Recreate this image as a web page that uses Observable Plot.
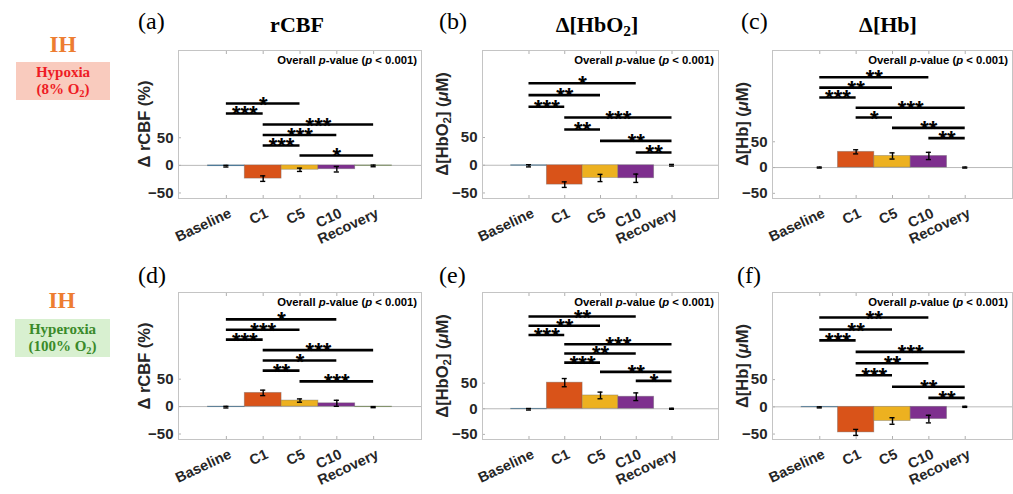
<!DOCTYPE html>
<html><head><meta charset="utf-8">
<script src="https://cdn.jsdelivr.net/npm/d3@7"></script>
<script src="https://cdn.jsdelivr.net/npm/@observablehq/plot@0.6"></script>
<style>
html,body{margin:0;padding:0;background:#fff;overflow:hidden;}
#root{position:relative;width:1013px;height:494px;overflow:hidden;font-family:"Liberation Sans",Arial,sans-serif;color:#262626;}
.abs{position:absolute;white-space:nowrap;line-height:1;}
.serif{font-family:"Liberation Serif","Times New Roman",serif;}
.plotwrap{position:absolute;}
.plotwrap svg{overflow:visible;max-width:none;}
sub{font-size:0.7em;vertical-align:-0.25em;line-height:0;}
</style></head><body><div id="root"></div><script>
// ---- shared categories / ticks ----
const categories = ["Baseline", "C1", "C5", "C10", "Recovery"];
const barColors = ["#0072BD", "#D95319", "#EDB120", "#7E2F8E", "#77AC30"];
const yTicks = [-50, 0, 50];

// ---- (a) rCBF, hypoxia ----
const aMean = [-1.5, -24, -8, -7, -1];
const aErr = [1.5, 5, 3, 5, 1.5];
const aSigFrom = ["Baseline", "Baseline", "C1", "C1", "C1", "C5"];
const aSigTo = ["C5", "C1", "Recovery", "C10", "C5", "Recovery"];
const aSigY = [112, 94, 74, 55, 36, 18];
const aSigStars = ["*", "***", "***", "***", "***", "*"];

// ---- (b) HbO2, hypoxia ----
const bMean = [-1, -35, -23, -23.5, 0];
const bErr = [2, 5, 6.5, 7.5, 1.5];
const bSigFrom = ["Baseline", "Baseline", "Baseline", "C1", "C1", "C5", "C10"];
const bSigTo = ["C10", "C5", "C1", "Recovery", "C5", "Recovery", "Recovery"];
const bSigY = [148, 126.5, 105.5, 86, 64.5, 44, 23];
const bSigStars = ["*", "**", "***", "***", "**", "**", "**"];

// ---- (c) Hb, hypoxia ----
const cMean = [0, 30.5, 22.5, 22.5, 0];
const cErr = [1, 4, 6, 7, 1];
const cSigFrom = ["Baseline", "Baseline", "Baseline", "C1", "C1", "C5", "C10"];
const cSigTo = ["C10", "C5", "C1", "Recovery", "C5", "Recovery", "Recovery"];
const cSigY = [175, 155, 136, 116, 97, 77, 57];
const cSigStars = ["**", "**", "***", "***", "*", "**", "**"];

// ---- (d) rCBF, hyperoxia ----
const dMean = [-1, 25, 11, 6, -1];
const dErr = [1.5, 5, 3, 5.5, 1];
const dSigFrom = ["Baseline", "Baseline", "Baseline", "C1", "C1", "C1", "C5"];
const dSigTo = ["C10", "C5", "C1", "Recovery", "C10", "C5", "Recovery"];
const dSigY = [159, 140, 122, 103, 84, 65.5, 46];
const dSigStars = ["*", "***", "***", "***", "*", "**", "***"];

// ---- (e) HbO2, hyperoxia ----
const eMean = [-1, 51, 26, 23.5, 0];
const eErr = [1.5, 8, 6.5, 7.5, 1];
const eSigFrom = ["Baseline", "Baseline", "Baseline", "C1", "C1", "C1", "C5", "C10"];
const eSigTo = ["C10", "C5", "C1", "Recovery", "C10", "C5", "Recovery", "Recovery"];
const eSigY = [180, 162, 144, 126, 108, 90, 72, 54.5];
const eSigStars = ["**", "**", "***", "***", "**", "***", "**", "*"];

// ---- (f) Hb, hyperoxia ----
const fMean = [-1, -47, -26, -22.5, 0];
const fErr = [1, 5.5, 6, 7, 1];
const fSigFrom = ["Baseline", "Baseline", "Baseline", "C1", "C1", "C1", "C5", "C10"];
const fSigTo = ["C10", "C5", "C1", "Recovery", "C10", "C5", "Recovery", "Recovery"];
const fSigY = [164, 142, 122, 101, 80, 58, 37, 16.5];
const fSigStars = ["**", "**", "***", "***", "**", "***", "**", "**"];

// ---- layout ----
const cols = [{x0: 178, x1: 421}, {x0: 482, x1: 718}, {x0: 772, x1: 1012}];
const rows = [{y0: 50, y1: 198}, {y0: 292, y1: 439}];
const root = document.getElementById("root");

function panel(mean, err, sigFrom, sigTo, sigY, sigStars, yDomain, col, row) {
  const bars = categories.map((c, k) => ({cat: c, i: k + 1, v: mean[k], e: err[k]}));
  const sig = sigFrom.map((f, k) => ({
    a: categories.indexOf(f) + 1, b: categories.indexOf(sigTo[k]) + 1, y: sigY[k], s: sigStars[k]
  }));
  const mL = 40, mR = 2, mT = 2, mB = 62;
  const w = col.x1 - col.x0, h = row.y1 - row.y0;
  const idx = [1, 2, 3, 4, 5];
  const svg = Plot.plot({
    width: w + mL + mR, height: h + mT + mB,
    marginLeft: mL, marginRight: mR, marginTop: mT, marginBottom: mB,
    x: {type: "linear", domain: [-0.3, 6.3], axis: null},
    y: {type: "linear", domain: yDomain, axis: null},
    color: {domain: categories, range: barColors},
    style: {background: "transparent", overflow: "visible", fontFamily: "Liberation Sans, Arial, sans-serif"},
    marks: [
      Plot.ruleY([0], {stroke: "#b9b9b9", strokeWidth: 1}),
      Plot.rect(bars, {x1: d => d.i - 0.5, x2: d => d.i + 0.5, y1: 0, y2: "v", fill: "cat",
        stroke: "#6b6b6b", strokeOpacity: 0.45, strokeWidth: 0.8}),
      Plot.ruleX(bars, {x: "i", y1: d => d.v - d.e, y2: d => d.v + d.e, stroke: "#000", strokeWidth: 1.4}),
      Plot.ruleY(bars, {y: d => d.v - d.e, x1: d => d.i - 0.07, x2: d => d.i + 0.07, stroke: "#000", strokeWidth: 1.4}),
      Plot.ruleY(bars, {y: d => d.v + d.e, x1: d => d.i - 0.07, x2: d => d.i + 0.07, stroke: "#000", strokeWidth: 1.4}),
      Plot.ruleY(sig, {y: "y", x1: "a", x2: "b", stroke: "#000", strokeWidth: 2.6}),
      Plot.text(sig, {x: d => (d.a + d.b) / 2, y: "y", text: "s", fontSize: 22, fontWeight: "bold",
        lineAnchor: "bottom", dy: 8, fill: "#000"}),
      Plot.axisX({ticks: idx, tickFormat: i => categories[i - 1], tickSize: 0, tickPadding: 14, tickRotate: -25,
        dx: 4, fontSize: 14.5, fontWeight: "bold", color: "#262626", label: null}),
      Plot.axisX({ticks: idx, anchor: "bottom", tickSize: -3, tickFormat: () => "", stroke: "#b0b0b0", label: null}),
      Plot.axisX({ticks: idx, anchor: "top", tickSize: -3, tickFormat: () => "", stroke: "#b0b0b0", label: null}),
      Plot.axisY({ticks: yTicks, tickSize: 0, tickPadding: 5, fontSize: 15, fontWeight: "bold", color: "#262626", label: null}),
      Plot.axisY({ticks: yTicks, tickSize: -3, tickFormat: () => "", stroke: "#b0b0b0", label: null}),
      Plot.frame({stroke: "#c4c4c4"})
    ]
  });
  const wrap = document.createElement("div");
  wrap.className = "plotwrap";
  wrap.style.left = (col.x0 - mL) + "px";
  wrap.style.top = (row.y0 - mT) + "px";
  wrap.appendChild(svg);
  root.appendChild(wrap);
}

panel(aMean, aErr, aSigFrom, aSigTo, aSigY, aSigStars, [-60, 208], cols[0], rows[0]);
panel(bMean, bErr, bSigFrom, bSigTo, bSigY, bSigStars, [-60, 207], cols[1], rows[0]);
panel(cMean, cErr, cSigFrom, cSigTo, cSigY, cSigStars, [-60, 227], cols[2], rows[0]);
panel(dMean, dErr, dSigFrom, dSigTo, dSigY, dSigStars, [-60, 208], cols[0], rows[1]);
panel(eMean, eErr, eSigFrom, eSigTo, eSigY, eSigStars, [-60, 227], cols[1], rows[1]);
panel(fMean, fErr, fSigFrom, fSigTo, fSigY, fSigStars, [-60, 210], cols[2], rows[1]);

// ---- text overlays ----
function addText(html, css, cls) {
  const el = document.createElement("div");
  el.className = "abs " + (cls || "");
  el.innerHTML = html;
  Object.assign(el.style, css);
  root.appendChild(el);
  return el;
}
const panelLetters = ["(a)", "(b)", "(c)", "(d)", "(e)", "(f)"];
const letterLeft = [138, 439, 741, 138, 439, 737];
const letterBaseline = [29, 29, 29, 283, 283, 283];
panelLetters.forEach((t, k) => addText(t, {left: letterLeft[k] + "px", top: (letterBaseline[k] - 20.1) + "px", fontSize: "24px", color: "#000"}, "serif"));

const titles = ["rCBF", "&Delta;[HbO<sub>2</sub>]", "&Delta;[Hb]"];
const titleCenter = [297, 597, 888];
titles.forEach((t, k) => addText(t, {left: titleCenter[k] + "px", top: (32 - 18.4) + "px", fontSize: "22px", fontWeight: "bold",
  color: "#000", transform: "translateX(-50%)"}, "serif"));

const yLabels = ["&Delta; rCBF (%)", "&Delta;[HbO<sub>2</sub>] (<i>&mu;</i>M)", "&Delta;[Hb] (<i>&mu;</i>M)"];
const yLabelX = [144, 442, 742];
[0, 1].forEach(r => yLabels.forEach((t, k) => addText(t, {
  left: yLabelX[k] + "px", top: ((rows[r].y0 + rows[r].y1) / 2) + "px", fontSize: "16.5px", fontWeight: "bold",
  transform: "translate(-50%,-50%) rotate(-90deg)"
})));

const pText = "Overall <i>p</i>-value (<i>p</i> &lt; 0.001)";
[0, 1].forEach(r => cols.forEach(c => addText(pText, {
  right: (1013 - (c.x1 - 4)) + "px", top: (rows[r].y0 + 4.5) + "px", fontSize: "11.3px", fontWeight: "bold", color: "#000"
})));

// ---- condition labels on the left ----
addText("IH", {left: "63px", top: "44px", fontSize: "23px", fontWeight: "bold", color: "#ED7D31", transform: "translate(-50%,-50%)"}, "serif");
addText("IH", {left: "62px", top: "300px", fontSize: "23px", fontWeight: "bold", color: "#ED7D31", transform: "translate(-50%,-50%)"}, "serif");
addText("Hypoxia<br>(8% O<sub>2</sub>)", {left: "16px", top: "62px", width: "94px", height: "38px", background: "#F9CBBE",
  fontSize: "15px", fontWeight: "bold", color: "#EE1C25", textAlign: "center", lineHeight: "17px", paddingTop: "2px", boxSizing: "border-box"}, "serif");
addText("Hyperoxia<br>(100% O<sub>2</sub>)", {left: "15px", top: "319px", width: "95px", height: "38px", background: "#D8F0D0",
  fontSize: "15px", fontWeight: "bold", color: "#3A8A2A", textAlign: "center", lineHeight: "17px", paddingTop: "2px", boxSizing: "border-box"}, "serif");
</script></body></html>
